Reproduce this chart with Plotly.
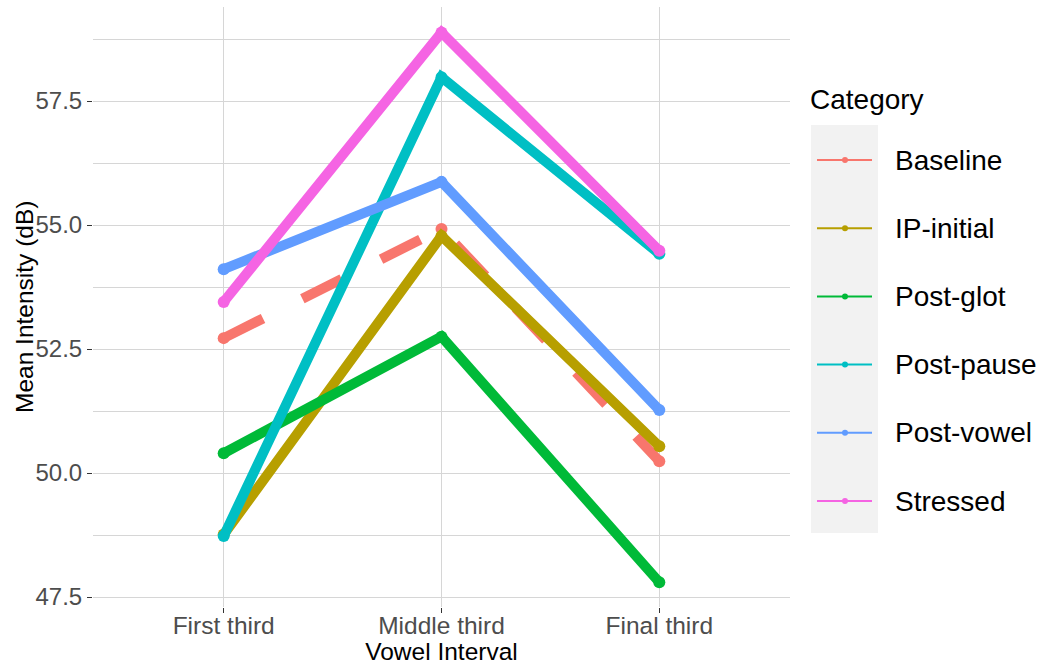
import plotly.graph_objects as go

intervals = ["First third", "Middle third", "Final third"]
categories = ["Baseline", "IP-initial", "Post-glot", "Post-pause", "Post-vowel", "Stressed"]
baseline = [52.72, 54.92, 50.24]
ip_initial = [48.76, 54.78, 50.54]
post_glot = [50.40, 52.75, 47.80]
post_pause = [48.73, 57.98, 54.42]
post_vowel = [54.11, 55.87, 51.27]
stressed = [53.45, 58.88, 54.48]
series = [baseline, ip_initial, post_glot, post_pause, post_vowel, stressed]
colors = ["#F8766D", "#B79F00", "#00BA38", "#00BFC4", "#619CFF", "#F564E3"]
dashes = ["44px,44px", "solid", "solid", "solid", "solid", "solid"]

W, H = 1044, 665
L, R, T, B = 93, 254, 7, 58
PW, PH = W - L - R, H - T - B

def px(x):
    return (x - L) / PW

def py(y):
    return (H - B - y) / PH

FONT = "Liberation Sans, Arial, sans-serif"

fig = go.Figure()
for name, vals, col, dash in zip(categories, series, colors, dashes):
    fig.add_trace(go.Scatter(
        x=intervals, y=vals, name=name, mode="lines+markers",
        line=dict(color=col, width=10, dash=dash),
        marker=dict(color=col, size=12),
        showlegend=False,
    ))

grid = "#D6D6D6"
fig.update_layout(
    width=W, height=H,
    margin=dict(l=L, r=R, t=T, b=B, autoexpand=False),
    paper_bgcolor="white", plot_bgcolor="white",
    font=dict(family=FONT, color="black"),
    xaxis=dict(
        type="category", categoryorder="array", categoryarray=intervals,
        range=[-0.6, 2.6], showgrid=True, gridcolor=grid, gridwidth=1.2,
        zeroline=False, showline=False, automargin=False,
        ticks="outside", ticklen=5, tickcolor="#333333", tickwidth=1,
        ticklabelstandoff=-8,
        tickfont=dict(size=24.5, color="#4D4D4D", family=FONT),
        title=dict(text="Vowel Interval", font=dict(size=24.5, color="black", family=FONT), standoff=0),
    ),
    yaxis=dict(
        range=[47.3, 59.395], tickmode="array",
        tickvals=[47.5, 50.0, 52.5, 55.0, 57.5],
        ticktext=["47.5", "50.0", "52.5", "55.0", "57.5"],
        showgrid=True, gridcolor=grid, gridwidth=1.2,
        minor=dict(tickmode="array", tickvals=[48.75, 51.25, 53.75, 56.25, 58.75],
                   showgrid=True, gridcolor=grid, gridwidth=1),
        zeroline=False, showline=False, automargin=False,
        ticks="outside", ticklen=5, tickcolor="#333333", tickwidth=1,
        tickfont=dict(size=24, color="#4D4D4D", family=FONT),
    ),
)

# Manual legend and y-axis title
shapes = []
annotations = []
annotations.append(dict(text="Mean Intensity (dB)", xref="paper", yref="paper",
                        x=px(24), y=py(307), xanchor="center", yanchor="middle",
                        textangle=-90, showarrow=False,
                        font=dict(size=24.5, color="black", family=FONT)))
shapes.append(dict(type="rect", xref="paper", yref="paper",
                   x0=px(811), x1=px(878), y0=py(533), y1=py(125),
                   fillcolor="#F2F2F2", line=dict(width=0), layer="below"))
annotations.append(dict(text="Category", xref="paper", yref="paper",
                        x=px(808), y=py(99), xanchor="left", yanchor="middle",
                        showarrow=False, font=dict(size=28, color="black", family=FONT)))
y0, dy = 160, 68.2
for i, (name, col) in enumerate(zip(categories, colors)):
    yc = y0 + i * dy
    shapes.append(dict(type="line", xref="paper", yref="paper",
                       x0=px(817), x1=px(872), y0=py(yc), y1=py(yc),
                       line=dict(color=col, width=2)))
    shapes.append(dict(type="circle", xref="paper", yref="paper",
                       x0=px(842), x1=px(848), y0=py(yc + 3), y1=py(yc - 3),
                       fillcolor=col, line=dict(width=0)))
    annotations.append(dict(text=name, xref="paper", yref="paper",
                            x=px(893), y=py(yc), xanchor="left", yanchor="middle",
                            showarrow=False, font=dict(size=28, color="black", family=FONT)))
fig.update_layout(shapes=shapes, annotations=annotations)

fig.write_html("out.html", config={"displayModeBar": False},
               post_script="document.body.style.margin='0';document.body.style.overflow='hidden';")
